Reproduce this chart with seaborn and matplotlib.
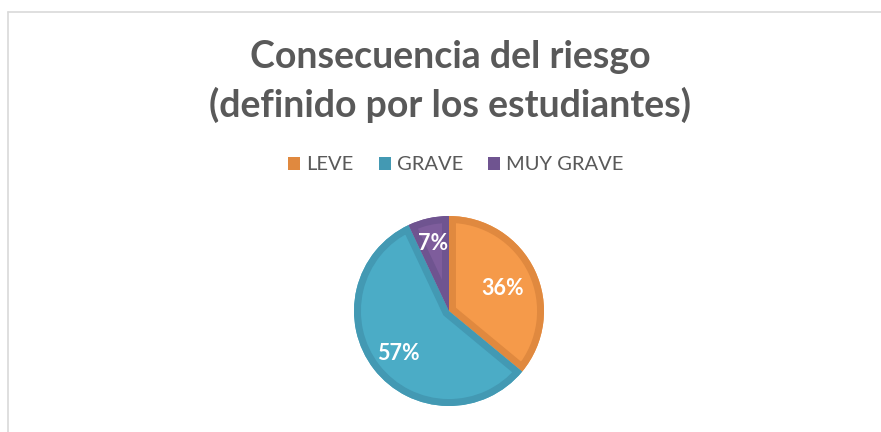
import matplotlib
matplotlib.use("Agg")
import matplotlib.pyplot as plt
import matplotlib.patches as mpatches
import numpy as np
import seaborn as sns

categories = ["LEVE", "GRAVE", "MUY GRAVE"]
values = [36, 57, 7]
fill_colors = ["#F59A4A", "#4BACC6", "#7E5D9C"]
edge_colors = ["#E0893F", "#4399B3", "#6F5490"]
label_dist = [0.62, 0.68, 0.76]

sns.set_theme(style="white")
plt.rcParams["font.family"] = ["Lato", "DejaVu Sans"]

W, H = 881, 432
fig = plt.figure(figsize=(W / 100, H / 100), dpi=100)
fig.patch.set_facecolor("white")

# chart frame (left and top visible)
fig.add_artist(plt.Line2D([8 / W, 8 / W], [0, 1 - 12 / H], color="#D9D9D9", lw=1.2))
fig.add_artist(plt.Line2D([8 / W, 1], [1 - 12 / H, 1 - 12 / H], color="#D9D9D9", lw=1.2))

cx, cy, r = 449, 311, 95
ax = fig.add_axes([(cx - r) / W, (H - cy - r) / H, 2 * r / W, 2 * r / H])
wedges, _ = ax.pie(values, colors=fill_colors, startangle=90, counterclock=False,
                   radius=1, wedgeprops=dict(linewidth=0))
# inner darker stroke for each slice
for w, ec in zip(wedges, edge_colors):
    stroke = mpatches.Wedge(w.center, w.r, w.theta1, w.theta2, fill=False,
                            edgecolor=ec, linewidth=10, joinstyle="miter")
    ax.add_patch(stroke)
    stroke.set_clip_path(w.get_path(), ax.transData)

for w, v, d in zip(wedges, values, label_dist):
    ang = np.deg2rad((w.theta1 + w.theta2) / 2)
    ax.text(d * np.cos(ang), d * np.sin(ang) - 0.03, f"{v}%", ha="center", va="center",
            color="white", fontsize=15.5, fontweight="bold")
ax.set_xlim(-1.0, 1.0)
ax.set_ylim(-1.0, 1.0)
ax.set_aspect("equal")
ax.axis("off")

fig.text(450 / W, 1 - 57 / H, "Consecuencia del riesgo", ha="center", va="center",
         fontsize=27, fontweight="bold", color="#595959")
fig.text(450 / W, 1 - 105 / H, "(definido por los estudiantes)", ha="center", va="center",
         fontsize=27, fontweight="bold", color="#595959")

handles = [mpatches.Patch(facecolor=c, edgecolor="none") for c in edge_colors]
fig.legend(handles, categories, loc="center", bbox_to_anchor=(456 / W, 1 - 165 / H),
           ncol=3, frameon=False, fontsize=14.5, handlelength=0.6, handleheight=0.6,
           handletextpad=0.3, columnspacing=1.25, labelcolor="#595959")

fig.savefig("out.png", dpi=100, facecolor="white")
